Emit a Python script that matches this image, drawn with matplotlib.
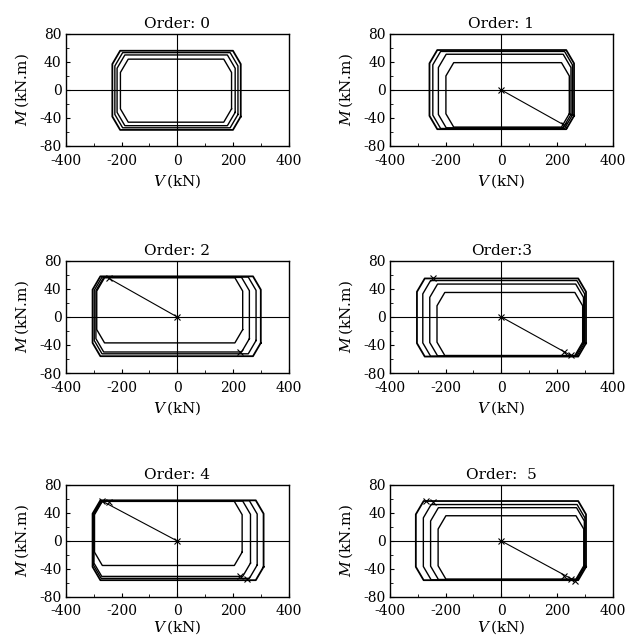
import matplotlib.pyplot as plt
import numpy as np
from matplotlib.ticker import MultipleLocator

plt.rcParams['font.family'] = 'DejaVu Serif'
plt.rcParams['mathtext.fontset'] = 'dejavuserif'
plt.rcParams['axes.unicode_minus'] = False

titles = ["Order: 0", "Order: 1", "Order: 2", "Order:3", "Order: 4", "Order:  5"]

# yield surfaces per order, outer -> inner: V left, V right, M bottom, M top
V_left = [
    [-233, -224, -216, -204],
    [-258, -246, -226, -199],
    [-304, -298, -292, -289],
    [-303, -282, -257, -231],
    [-304, -301, -299, -297],
    [-307, -280, -254, -227],
]
V_right = [
    [228, 218, 208, 195],
    [261, 255, 250, 244],
    [300, 283, 259, 235],
    [304, 299, 295, 292],
    [310, 287, 263, 233],
    [304, 300, 298, 296],
]
M_bottom = [
    [-57, -54, -51, -46],
    [-56, -55, -54, -53],
    [-56, -52.6, -50, -37],
    [-56.5, -56, -55.5, -55],
    [-56, -53.4, -50.6, -35],
    [-56, -55.5, -55, -54.5],
]
M_top = [
    [56, 53.3, 50, 44],
    [57, 55, 51, 39],
    [58, 57, 56.5, 56],
    [55, 52, 47, 35],
    [58, 57.5, 57, 56.5],
    [57, 52, 47.5, 36],
]
# corner cut of the octagonal surfaces
cut_V = 28
cut_M = 19

# load points reached at orders 1..5
load_V = [225, -245, 250, -270, 265]
load_M = [-50, 55, -55, 57, -57]


def octagon(xl, xr, yb, yt):
    xs = [xr, xr, xr - cut_V, xl + cut_V, xl, xl, xl + cut_V, xr - cut_V, xr]
    ys = [yb + cut_M, yt - cut_M, yt, yt, yt - cut_M, yb + cut_M, yb, yb, yb + cut_M]
    return xs, ys


fig = plt.figure(figsize=(6.33, 6.44), dpi=100)
lefts = [0.104, 0.616]
bottoms = [0.7733, 0.4208, 0.0730]

for k in range(6):
    ax = fig.add_axes([lefts[k % 2], bottoms[k // 2], 0.352, 0.174])
    ax.axhline(0, color='black', lw=0.8)
    ax.axvline(0, color='black', lw=0.8)
    for j in range(len(V_left[k])):
        xs, ys = octagon(V_left[k][j], V_right[k][j], M_bottom[k][j], M_top[k][j])
        ax.plot(xs, ys, color='black', lw=1.3 if j == 0 else 1.0)
    if k > 0:
        ax.plot([0, load_V[k - 1]], [0, load_M[k - 1]], color='black', lw=0.8)
        ax.plot([0] + load_V[:k], [0] + load_M[:k], ls='none', marker='x',
                color='black', ms=4, mew=0.8)
    ax.set_xlim(-400, 400)
    ax.set_ylim(-80, 80)
    ax.set_xticks([-400, -200, 0, 200, 400])
    ax.set_yticks([-80, -40, 0, 40, 80])
    ax.xaxis.set_minor_locator(MultipleLocator(100))
    ax.yaxis.set_minor_locator(MultipleLocator(20))
    ax.tick_params(which='both', direction='in', labelsize=10)
    ax.tick_params(axis='x', pad=6 if k < 4 else 5)
    ax.tick_params(axis='y', pad=3)
    ax.tick_params(which='major', length=3)
    ax.tick_params(which='minor', length=2)
    for s in ax.spines.values():
        s.set_linewidth(1.0)
    ax.set_title(titles[k], fontsize=11, pad=4)
    ax.set_xlabel(r'$V\,$(kN)', fontsize=11, labelpad=3 if k < 4 else 0)
    ax.set_ylabel(r'$M\,$(kN.m)', fontsize=11, labelpad=6)

fig.savefig('out.png', dpi=100)
